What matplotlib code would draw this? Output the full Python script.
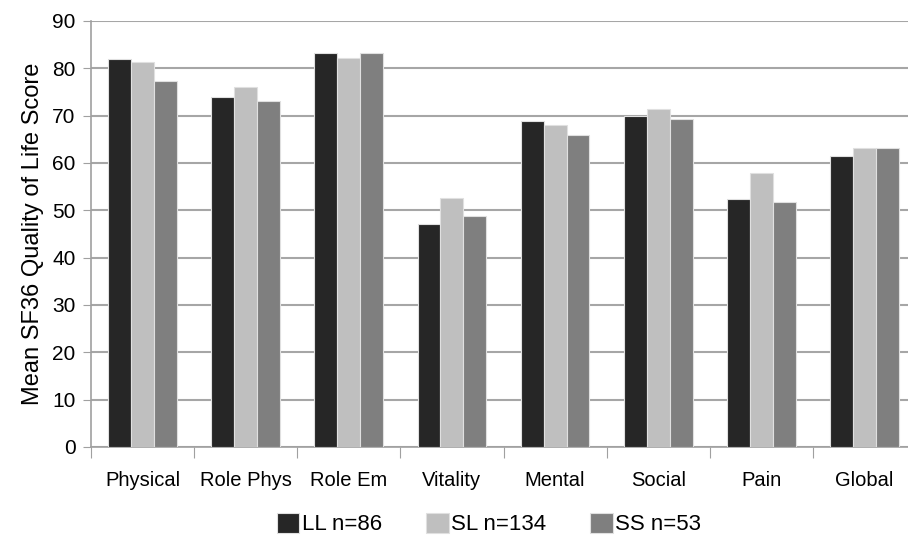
import numpy as np
import matplotlib.pyplot as plt

plt.rcParams['font.family'] = ['Liberation Sans', 'DejaVu Sans']

categories = ['Physical', 'Role Phys', 'Role Em', 'Vitality', 'Mental', 'Social', 'Pain', 'Global']
ll = [81.9, 74.0, 83.2, 47.2, 68.9, 69.9, 52.5, 61.5]
sl = [81.3, 76.0, 82.2, 52.7, 68.0, 71.4, 57.9, 63.1]
ss = [77.3, 73.0, 83.3, 48.8, 66.0, 69.4, 51.8, 63.1]
series_names = ['LL n=86', 'SL n=134', 'SS n=53']
colors = ['#262626', '#bfbfbf', '#7f7f7f']

fig = plt.figure(figsize=(9.08, 5.36), dpi=100)
ax = fig.add_axes([91/908, 1 - 447/536, 825/908, 426/536])

x = np.arange(len(categories))
w = 1 / 4.5
for i, (vals, name, c) in enumerate(zip([ll, sl, ss], series_names, colors)):
    ax.bar(x + (i - 1) * w, vals, width=w, color=c, edgecolor='#e0e0e0',
           linewidth=0.8, label=name, zorder=3)

ax.set_xlim(-0.5, len(categories) - 0.5)
ax.set_ylim(0, 90)
ax.set_yticks(range(0, 91, 10))
ax.set_xticks(np.arange(-0.5, len(categories)), minor=False)
ax.set_xticklabels([])
ax.set_xticks(x, minor=True)
ax.set_xticklabels(categories, minor=True)
ax.tick_params(axis='x', which='major', length=8, color='#a0a0a0', direction='out')
ax.tick_params(axis='x', which='minor', length=0, pad=17, labelsize=14.5)
ax.tick_params(axis='y', length=6, color='#a0a0a0', labelsize=15, pad=5)

ax.yaxis.grid(True, color='#a6a6a6', linewidth=1.5, zorder=0)
for s in ['top', 'right']:
    ax.spines[s].set_visible(False)
for s in ['left', 'bottom']:
    ax.spines[s].set_color('#a0a0a0')
    ax.spines[s].set_linewidth(1.2)

ax.set_ylabel('Mean SF36 Quality of Life Score', fontsize=17, labelpad=6)

fig.legend(loc='center', bbox_to_anchor=(489/908, 1 - 524/536), ncol=3,
           frameon=False, fontsize=16, handlelength=1.0, handleheight=1.0,
           handletextpad=0.1, columnspacing=2.0)

fig.savefig('out.png', dpi=100)
